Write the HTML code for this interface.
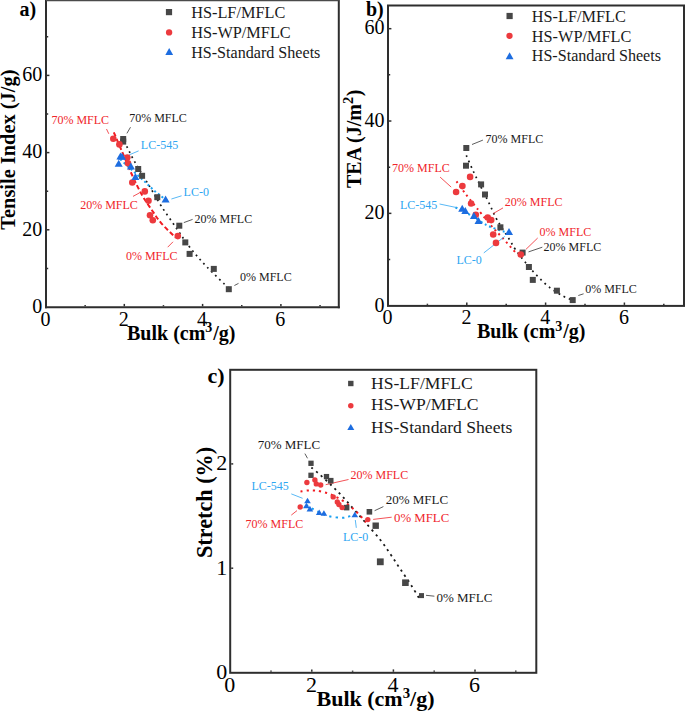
<!DOCTYPE html>
<html><head><meta charset="utf-8"><style>
html,body{margin:0;padding:0;background:#fff;width:685px;height:712px;overflow:hidden}
svg{display:block}
text{font-family:"Liberation Serif",serif}
</style></head><body>
<svg width="685" height="712" viewBox="0 0 685 712">
<rect width="685" height="712" fill="#fff"/>
<line x1="46" y1="-1" x2="46" y2="308.3" stroke="#2e2e2e" stroke-width="2" />
<line x1="338.8" y1="-1" x2="338.8" y2="308.3" stroke="#2e2e2e" stroke-width="2" />
<line x1="45" y1="307.3" x2="339.8" y2="307.3" stroke="#2e2e2e" stroke-width="2" />
<line x1="46" y1="0.5" x2="338.8" y2="0.5" stroke="#4a4a4a" stroke-width="1.4" />
<line x1="85.15" y1="306.3" x2="85.15" y2="305.1" stroke="#2e2e2e" stroke-width="1.5" />
<line x1="124.3" y1="306.3" x2="124.3" y2="303.9" stroke="#2e2e2e" stroke-width="1.5" />
<line x1="163.45" y1="306.3" x2="163.45" y2="305.1" stroke="#2e2e2e" stroke-width="1.5" />
<line x1="202.6" y1="306.3" x2="202.6" y2="303.9" stroke="#2e2e2e" stroke-width="1.5" />
<line x1="241.75" y1="306.3" x2="241.75" y2="305.1" stroke="#2e2e2e" stroke-width="1.5" />
<line x1="280.9" y1="306.3" x2="280.9" y2="303.9" stroke="#2e2e2e" stroke-width="1.5" />
<line x1="320.05" y1="306.3" x2="320.05" y2="305.1" stroke="#2e2e2e" stroke-width="1.5" />
<line x1="47" y1="268.4" x2="48.2" y2="268.4" stroke="#2e2e2e" stroke-width="1.5" />
<line x1="47" y1="229.8" x2="49.4" y2="229.8" stroke="#2e2e2e" stroke-width="1.5" />
<line x1="47" y1="191.2" x2="48.2" y2="191.2" stroke="#2e2e2e" stroke-width="1.5" />
<line x1="47" y1="152.6" x2="49.4" y2="152.6" stroke="#2e2e2e" stroke-width="1.5" />
<line x1="47" y1="114" x2="48.2" y2="114" stroke="#2e2e2e" stroke-width="1.5" />
<line x1="47" y1="75.4" x2="49.4" y2="75.4" stroke="#2e2e2e" stroke-width="1.5" />
<line x1="47" y1="36.8" x2="48.2" y2="36.8" stroke="#2e2e2e" stroke-width="1.5" />
<text x="42.2" y="312.8" font-size="20" fill="#000" text-anchor="end" font-weight="normal" >0</text>
<text x="42.2" y="235.6" font-size="20" fill="#000" text-anchor="end" font-weight="normal" >20</text>
<text x="42.2" y="158.4" font-size="20" fill="#000" text-anchor="end" font-weight="normal" >40</text>
<text x="42.2" y="81.2" font-size="20" fill="#000" text-anchor="end" font-weight="normal" >60</text>
<text x="45.4" y="325.6" font-size="20" fill="#000" text-anchor="middle" font-weight="normal" >0</text>
<text x="123.7" y="325.6" font-size="20" fill="#000" text-anchor="middle" font-weight="normal" >2</text>
<text x="202" y="325.6" font-size="20" fill="#000" text-anchor="middle" font-weight="normal" >4</text>
<text x="280.3" y="325.6" font-size="20" fill="#000" text-anchor="middle" font-weight="normal" >6</text>
<text x="127" y="339.6" font-size="20" fill="#000" text-anchor="start" font-weight="bold" >Bulk (cm<tspan font-size="14" dy="-7.6">3</tspan><tspan dy="7.6" dx="0.8">/g)</tspan></text>
<text x="0" y="0" font-size="20.4" fill="#000" text-anchor="start" font-weight="bold" transform="translate(15.4,229.7) rotate(-90)" >Tensile Index (J/g)</text>
<text x="19.6" y="16.2" font-size="20" fill="#000" text-anchor="start" font-weight="bold" >a)</text>
<rect x="165.9" y="9" width="6.2" height="6.2" fill="#474747"/>
<circle cx="169.1" cy="32.4" r="3.15" fill="#ec3a3e"/>
<polygon points="169.2,48.05 173.1,54.95 165.3,54.95" fill="#1d6de0"/>
<text x="191.2" y="17.5" font-size="16.3" fill="#1a1a1a" text-anchor="start" font-weight="normal" >HS-LF/MFLC</text>
<text x="191.2" y="37.9" font-size="16.3" fill="#1a1a1a" text-anchor="start" font-weight="normal" >HS-WP/MFLC</text>
<text x="191.2" y="57.7" font-size="16.1" fill="#1a1a1a" text-anchor="start" font-weight="normal" >HS-Standard Sheets</text>
<path d="M124.3,141.4 C126.07,144.87 130.58,154.53 134.9,162.2 C139.22,169.87 145.77,180.03 150.2,187.4 C154.63,194.77 157.07,199.5 161.5,206.4 C165.93,213.3 172.05,221.93 176.8,228.8 C181.55,235.67 184.98,241.25 190,247.6 C195.02,253.95 200.4,260.08 206.9,266.9 C213.4,273.72 225.32,284.9 229,288.5" fill="none" stroke="#1a1a1a" stroke-width="1.7" stroke-dasharray="1.8 3.8"/>
<path d="M113.8,132.3 C115.25,135.7 119.35,145.35 122.5,152.7 C125.65,160.05 129.45,169.35 132.7,176.4 C135.95,183.45 138.92,189.55 142,195 C145.08,200.45 148.03,204.45 151.2,209.1 C154.37,213.75 156.95,218.17 161,222.9 C165.05,227.63 173.08,235.07 175.5,237.5" fill="none" stroke="#f21c22" stroke-width="2" stroke-dasharray="4.6 2.6"/>
<path d="M120.5,159.5 C124.17,162.85 136.88,174.43 142.5,179.6 C148.12,184.77 150.62,187.35 154.2,190.5 C157.78,193.65 162.37,197.17 164,198.5" fill="none" stroke="#1aa0f0" stroke-width="2" stroke-dasharray="2 2.6"/>
<line x1="106.5" y1="129" x2="108.8" y2="133.8" stroke="#f0262c" stroke-width="0.8" />
<line x1="126.9" y1="133.4" x2="130.5" y2="127.2" stroke="#333" stroke-width="0.8" />
<line x1="129.1" y1="154.9" x2="138.6" y2="150.9" stroke="#2ea6f2" stroke-width="0.8" />
<line x1="133" y1="196.4" x2="139.6" y2="192.8" stroke="#f0262c" stroke-width="0.8" />
<line x1="171.4" y1="199" x2="181.6" y2="195.8" stroke="#2ea6f2" stroke-width="0.8" />
<line x1="183.8" y1="222.6" x2="192.6" y2="219.4" stroke="#333" stroke-width="0.8" />
<line x1="167.7" y1="247.2" x2="173" y2="241.8" stroke="#f0262c" stroke-width="0.8" />
<line x1="234.4" y1="285.5" x2="238.5" y2="283.4" stroke="#333" stroke-width="0.8" />
<text x="51.4" y="124.1" font-size="12" fill="#f0262c" text-anchor="start" font-weight="normal" >70% MFLC</text>
<text x="129.2" y="122.2" font-size="12" fill="#1a1a1a" text-anchor="start" font-weight="normal" >70% MFLC</text>
<text x="140.8" y="148.9" font-size="12" fill="#2ea6f2" text-anchor="start" font-weight="normal" >LC-545</text>
<text x="183.6" y="196.1" font-size="12" fill="#2ea6f2" text-anchor="start" font-weight="normal" >LC-0</text>
<text x="80.2" y="208.8" font-size="12" fill="#f0262c" text-anchor="start" font-weight="normal" >20% MFLC</text>
<text x="194.5" y="222.6" font-size="12" fill="#1a1a1a" text-anchor="start" font-weight="normal" >20% MFLC</text>
<text x="125.9" y="260.4" font-size="12" fill="#f0262c" text-anchor="start" font-weight="normal" >0% MFLC</text>
<text x="240" y="280.9" font-size="12" fill="#1a1a1a" text-anchor="start" font-weight="normal" >0% MFLC</text>
<rect x="120.2" y="136" width="6" height="6" fill="#474747"/>
<rect x="120.2" y="138.6" width="6" height="6" fill="#474747"/>
<rect x="135.2" y="166" width="6" height="6" fill="#474747"/>
<rect x="139.1" y="172.8" width="6" height="6" fill="#474747"/>
<rect x="154.3" y="194.2" width="6" height="6" fill="#474747"/>
<rect x="176.3" y="222.7" width="6" height="6" fill="#474747"/>
<rect x="182.3" y="239.4" width="6" height="6" fill="#474747"/>
<rect x="186.6" y="250.9" width="6" height="6" fill="#474747"/>
<rect x="210.8" y="265.9" width="6" height="6" fill="#474747"/>
<rect x="225.8" y="286.2" width="6" height="6" fill="#474747"/>
<circle cx="113.3" cy="138.7" r="3.3" fill="#ec3a3e"/>
<circle cx="119.4" cy="144.4" r="3.3" fill="#ec3a3e"/>
<circle cx="127.3" cy="157.5" r="3.3" fill="#ec3a3e"/>
<circle cx="128" cy="163.3" r="3.3" fill="#ec3a3e"/>
<circle cx="132.3" cy="182.5" r="3.3" fill="#ec3a3e"/>
<circle cx="144.8" cy="191.4" r="3.3" fill="#ec3a3e"/>
<circle cx="148.5" cy="200.8" r="3.3" fill="#ec3a3e"/>
<circle cx="150" cy="215.3" r="3.3" fill="#ec3a3e"/>
<circle cx="152.8" cy="220.2" r="3.3" fill="#ec3a3e"/>
<circle cx="177.8" cy="236.1" r="3.3" fill="#ec3a3e"/>
<polygon points="120.4,152.5 124.4,159.5 116.4,159.5" fill="#1d6de0"/>
<polygon points="122,152.8 126,159.8 118,159.8" fill="#1d6de0"/>
<polygon points="118.7,159.8 122.7,166.8 114.7,166.8" fill="#1d6de0"/>
<polygon points="130.9,162.4 134.9,169.4 126.9,169.4" fill="#1d6de0"/>
<polygon points="135.4,173.1 139.4,180.1 131.4,180.1" fill="#1d6de0"/>
<polygon points="165.6,195.5 169.6,202.5 161.6,202.5" fill="#1d6de0"/>
<rect x="388" y="5.5" width="296" height="300.4" fill="none" stroke="#2e2e2e" stroke-width="2"/>
<line x1="427.4" y1="304.9" x2="427.4" y2="303.7" stroke="#2e2e2e" stroke-width="1.5" />
<line x1="466.8" y1="304.9" x2="466.8" y2="302.5" stroke="#2e2e2e" stroke-width="1.5" />
<line x1="506.2" y1="304.9" x2="506.2" y2="303.7" stroke="#2e2e2e" stroke-width="1.5" />
<line x1="545.6" y1="304.9" x2="545.6" y2="302.5" stroke="#2e2e2e" stroke-width="1.5" />
<line x1="585" y1="304.9" x2="585" y2="303.7" stroke="#2e2e2e" stroke-width="1.5" />
<line x1="624.4" y1="304.9" x2="624.4" y2="302.5" stroke="#2e2e2e" stroke-width="1.5" />
<line x1="663.8" y1="304.9" x2="663.8" y2="303.7" stroke="#2e2e2e" stroke-width="1.5" />
<line x1="389" y1="259.53" x2="390.2" y2="259.53" stroke="#2e2e2e" stroke-width="1.5" />
<line x1="389" y1="213.36" x2="391.4" y2="213.36" stroke="#2e2e2e" stroke-width="1.5" />
<line x1="389" y1="167.19" x2="390.2" y2="167.19" stroke="#2e2e2e" stroke-width="1.5" />
<line x1="389" y1="121.02" x2="391.4" y2="121.02" stroke="#2e2e2e" stroke-width="1.5" />
<line x1="389" y1="74.85" x2="390.2" y2="74.85" stroke="#2e2e2e" stroke-width="1.5" />
<line x1="389" y1="28.68" x2="391.4" y2="28.68" stroke="#2e2e2e" stroke-width="1.5" />
<text x="384.4" y="311.5" font-size="20" fill="#000" text-anchor="end" font-weight="normal" >0</text>
<text x="384.4" y="219.16" font-size="20" fill="#000" text-anchor="end" font-weight="normal" >20</text>
<text x="384.4" y="126.82" font-size="20" fill="#000" text-anchor="end" font-weight="normal" >40</text>
<text x="384.4" y="34.48" font-size="20" fill="#000" text-anchor="end" font-weight="normal" >60</text>
<text x="387.6" y="324.1" font-size="20" fill="#000" text-anchor="middle" font-weight="normal" >0</text>
<text x="466.4" y="324.1" font-size="20" fill="#000" text-anchor="middle" font-weight="normal" >2</text>
<text x="545.2" y="324.1" font-size="20" fill="#000" text-anchor="middle" font-weight="normal" >4</text>
<text x="624" y="324.1" font-size="20" fill="#000" text-anchor="middle" font-weight="normal" >6</text>
<text x="477" y="338.2" font-size="20" fill="#000" text-anchor="start" font-weight="bold" >Bulk (cm<tspan font-size="14" dy="-7.6">3</tspan><tspan dy="7.6" dx="0.8">/g)</tspan></text>
<text x="0" y="0" font-size="20" fill="#000" text-anchor="start" font-weight="bold" transform="translate(360.9,188) rotate(-90)" >TEA (J/m<tspan font-size="14.5" dy="-8.3">2</tspan><tspan dy="8.3" dx="0.6">)</tspan></text>
<text x="366" y="16.3" font-size="20" fill="#000" text-anchor="start" font-weight="bold" >b)</text>
<rect x="506.5" y="12.9" width="6.2" height="6.2" fill="#474747"/>
<circle cx="509.5" cy="35.8" r="3.15" fill="#ec3a3e"/>
<polygon points="509.6,52.35 513.5,59.25 505.7,59.25" fill="#1d6de0"/>
<text x="531.8" y="21.6" font-size="16.3" fill="#1a1a1a" text-anchor="start" font-weight="normal" >HS-LF/MFLC</text>
<text x="531.8" y="41.5" font-size="16.3" fill="#1a1a1a" text-anchor="start" font-weight="normal" >HS-WP/MFLC</text>
<text x="531.8" y="61.3" font-size="16.1" fill="#1a1a1a" text-anchor="start" font-weight="normal" >HS-Standard Sheets</text>
<path d="M466.3,155.4 C467.48,158.08 470.95,166.23 473.4,171.5 C475.85,176.77 478.35,181.63 481,187 C483.65,192.37 486.65,198.27 489.3,203.7 C491.95,209.13 493.6,213.72 496.9,219.6 C500.2,225.48 506.03,234.05 509.1,239 C512.17,243.95 512.6,245.42 515.3,249.3 C518,253.18 521.68,257.9 525.3,262.3 C528.92,266.7 532.92,271.48 537,275.7 C541.08,279.92 545.43,284.2 549.8,287.6 C554.17,291 559.33,293.95 563.2,296.1 C567.07,298.25 571.37,299.77 573,300.5" fill="none" stroke="#1a1a1a" stroke-width="1.7" stroke-dasharray="1.8 4"/>
<path d="M456.5,181.3 C458.02,183.42 462.42,189.78 465.6,194 C468.78,198.22 472.98,203.33 475.6,206.6 C478.22,209.87 478.68,210.4 481.3,213.6 C483.92,216.8 487.8,221.78 491.3,225.8 C494.8,229.82 498.02,232.97 502.3,237.7 C506.58,242.43 514.55,251.45 517,254.2" fill="none" stroke="#f21c22" stroke-width="2" stroke-dasharray="2 3.6"/>
<path d="M455.5,207.5 C457.75,208.63 463.83,211.38 469,214.3 C474.17,217.22 481.17,222.27 486.5,225 C491.83,227.73 497.58,229.53 501,230.7 C504.42,231.87 506,231.78 507,232" fill="none" stroke="#1aa0f0" stroke-width="2" stroke-dasharray="2 2.8"/>
<line x1="440.1" y1="177.1" x2="451.2" y2="187.1" stroke="#f0262c" stroke-width="0.8" />
<line x1="472" y1="144.5" x2="482.9" y2="140.1" stroke="#333" stroke-width="0.8" />
<line x1="439.6" y1="204" x2="457.7" y2="207.8" stroke="#2ea6f2" stroke-width="0.8" />
<line x1="493.3" y1="213.5" x2="503" y2="207.9" stroke="#f0262c" stroke-width="0.8" />
<line x1="483.8" y1="252.9" x2="504.8" y2="236.4" stroke="#2ea6f2" stroke-width="0.8" />
<line x1="526" y1="249.3" x2="537.7" y2="238" stroke="#f0262c" stroke-width="0.8" />
<line x1="528.5" y1="251.9" x2="542.3" y2="247.2" stroke="#333" stroke-width="0.8" />
<line x1="578.3" y1="295.5" x2="583.6" y2="293.8" stroke="#333" stroke-width="0.8" />
<text x="392.1" y="172.4" font-size="12" fill="#f0262c" text-anchor="start" font-weight="normal" >70% MFLC</text>
<text x="485.6" y="142.8" font-size="12" fill="#1a1a1a" text-anchor="start" font-weight="normal" >70% MFLC</text>
<text x="399.9" y="209" font-size="12" fill="#2ea6f2" text-anchor="start" font-weight="normal" >LC-545</text>
<text x="456.4" y="263.8" font-size="12" fill="#2ea6f2" text-anchor="start" font-weight="normal" >LC-0</text>
<text x="504.8" y="206.1" font-size="12" fill="#f0262c" text-anchor="start" font-weight="normal" >20% MFLC</text>
<text x="539.6" y="235.9" font-size="12" fill="#f0262c" text-anchor="start" font-weight="normal" >0% MFLC</text>
<text x="543.6" y="250.9" font-size="12" fill="#1a1a1a" text-anchor="start" font-weight="normal" >20% MFLC</text>
<text x="585.2" y="292.5" font-size="12" fill="#1a1a1a" text-anchor="start" font-weight="normal" >0% MFLC</text>
<rect x="463.3" y="145" width="6" height="6" fill="#474747"/>
<rect x="463" y="162.7" width="6" height="6" fill="#474747"/>
<rect x="478.1" y="181.4" width="6" height="6" fill="#474747"/>
<rect x="482" y="191.5" width="6" height="6" fill="#474747"/>
<rect x="497.4" y="224.3" width="6" height="6" fill="#474747"/>
<rect x="519.6" y="249.6" width="6" height="6" fill="#474747"/>
<rect x="525.9" y="264" width="6" height="6" fill="#474747"/>
<rect x="529.8" y="276.9" width="6" height="6" fill="#474747"/>
<rect x="553.9" y="287.7" width="6" height="6" fill="#474747"/>
<rect x="569.7" y="297.1" width="6" height="6" fill="#474747"/>
<circle cx="470.1" cy="176.9" r="3.3" fill="#ec3a3e"/>
<circle cx="462.4" cy="186.1" r="3.3" fill="#ec3a3e"/>
<circle cx="456.1" cy="192" r="3.3" fill="#ec3a3e"/>
<circle cx="471.1" cy="203.5" r="3.3" fill="#ec3a3e"/>
<circle cx="475.8" cy="214.8" r="3.3" fill="#ec3a3e"/>
<circle cx="487.7" cy="217.6" r="3.3" fill="#ec3a3e"/>
<circle cx="491.2" cy="220.1" r="3.3" fill="#ec3a3e"/>
<circle cx="493.2" cy="234.5" r="3.3" fill="#ec3a3e"/>
<circle cx="496" cy="242.9" r="3.3" fill="#ec3a3e"/>
<circle cx="520.8" cy="254.5" r="3.3" fill="#ec3a3e"/>
<polygon points="462.2,204.8 466.2,211.8 458.2,211.8" fill="#1d6de0"/>
<polygon points="465.3,206.9 469.3,213.9 461.3,213.9" fill="#1d6de0"/>
<polygon points="473.9,212.1 477.9,219.1 469.9,219.1" fill="#1d6de0"/>
<polygon points="478.5,217.1 482.5,224.1 474.5,224.1" fill="#1d6de0"/>
<polygon points="509,228.1 513,235.1 505,235.1" fill="#1d6de0"/>
<rect x="230.2" y="369.8" width="306.1" height="303" fill="none" stroke="#2e2e2e" stroke-width="2"/>
<line x1="271" y1="671.8" x2="271" y2="670.6" stroke="#2e2e2e" stroke-width="1.5" />
<line x1="311.8" y1="671.8" x2="311.8" y2="669.4" stroke="#2e2e2e" stroke-width="1.5" />
<line x1="352.6" y1="671.8" x2="352.6" y2="670.6" stroke="#2e2e2e" stroke-width="1.5" />
<line x1="393.4" y1="671.8" x2="393.4" y2="669.4" stroke="#2e2e2e" stroke-width="1.5" />
<line x1="434.2" y1="671.8" x2="434.2" y2="670.6" stroke="#2e2e2e" stroke-width="1.5" />
<line x1="475" y1="671.8" x2="475" y2="669.4" stroke="#2e2e2e" stroke-width="1.5" />
<line x1="515.8" y1="671.8" x2="515.8" y2="670.6" stroke="#2e2e2e" stroke-width="1.5" />
<line x1="231.2" y1="568.2" x2="233.2" y2="568.2" stroke="#2e2e2e" stroke-width="1.5" />
<line x1="231.2" y1="463.9" x2="233.2" y2="463.9" stroke="#2e2e2e" stroke-width="1.5" />
<text x="227.2" y="678.9" font-size="22" fill="#000" text-anchor="end" font-weight="normal" >0</text>
<text x="227.2" y="574.6" font-size="22" fill="#000" text-anchor="end" font-weight="normal" >1</text>
<text x="227.2" y="470.3" font-size="22" fill="#000" text-anchor="end" font-weight="normal" >2</text>
<text x="229.8" y="692.2" font-size="22" fill="#000" text-anchor="middle" font-weight="normal" >0</text>
<text x="311.4" y="692.2" font-size="22" fill="#000" text-anchor="middle" font-weight="normal" >2</text>
<text x="393" y="692.2" font-size="22" fill="#000" text-anchor="middle" font-weight="normal" >4</text>
<text x="474.6" y="692.2" font-size="22" fill="#000" text-anchor="middle" font-weight="normal" >6</text>
<text x="316.5" y="706" font-size="22" fill="#000" text-anchor="start" font-weight="bold" >Bulk (cm<tspan font-size="14.8" dy="-7.8">3</tspan><tspan dy="7.8">/g)</tspan></text>
<text x="0" y="0" font-size="22.2" fill="#000" text-anchor="start" font-weight="bold" transform="translate(211.8,558) rotate(-90)" >Stretch (%)</text>
<text x="207.5" y="382.6" font-size="22" fill="#000" text-anchor="start" font-weight="bold" >c)</text>
<rect x="348.1" y="380.8" width="5.4" height="5.4" fill="#474747"/>
<circle cx="350.8" cy="405.7" r="2.75" fill="#ec3a3e"/>
<polygon points="350.8,424 354.3,430 347.3,430" fill="#1d6de0"/>
<text x="371" y="388.7" font-size="17.6" fill="#1a1a1a" text-anchor="start" font-weight="normal" >HS-LF/MFLC</text>
<text x="371" y="410.3" font-size="17.6" fill="#1a1a1a" text-anchor="start" font-weight="normal" >HS-WP/MFLC</text>
<text x="371" y="432.6" font-size="17.6" fill="#1a1a1a" text-anchor="start" font-weight="normal" >HS-Standard Sheets</text>
<path d="M311.4,467.5 C312.8,468.67 316.38,471.45 319.8,474.5 C323.22,477.55 328.13,482.15 331.9,485.8 C335.67,489.45 338.82,492.57 342.4,496.4 C345.98,500.23 349.63,504.53 353.4,508.8 C357.17,513.07 360.5,516.8 365,522 C369.5,527.2 376.07,534.5 380.4,540 C384.73,545.5 387.65,550.1 391,555 C394.35,559.9 397.18,564.45 400.5,569.4 C403.82,574.35 407.52,579.43 410.9,584.7 C414.28,589.97 419.15,598.28 420.8,601" fill="none" stroke="#1a1a1a" stroke-width="1.8" stroke-dasharray="2.2 4"/>
<path d="M300.5,491.5 C301.65,491.33 305.18,490.67 307.4,490.5 C309.62,490.33 311.67,490.38 313.8,490.5 C315.93,490.62 317.5,490.58 320.2,491.2 C322.9,491.82 326.6,492.85 330,494.2 C333.4,495.55 336.95,497.05 340.6,499.3 C344.25,501.55 348.68,505.02 351.9,507.7 C355.12,510.38 357.55,512.97 359.9,515.4 C362.25,517.83 364.98,521.15 366,522.3" fill="none" stroke="#f21c22" stroke-width="2" stroke-dasharray="2.2 4"/>
<path d="M306.4,505 C307.85,505.87 311.42,508.35 315.1,510.2 C318.78,512.05 324.07,514.83 328.5,516.1 C332.93,517.37 338.53,517.67 341.7,517.8 C344.87,517.93 345.32,517.42 347.5,516.9 C349.68,516.38 353.58,515.07 354.8,514.7" fill="none" stroke="#1aa0f0" stroke-width="2" stroke-dasharray="2.2 4.2"/>
<line x1="304.9" y1="453.6" x2="307.5" y2="458.3" stroke="#333" stroke-width="0.8" />
<line x1="291.3" y1="493.9" x2="302.6" y2="498.3" stroke="#2ea6f2" stroke-width="0.8" />
<line x1="291.3" y1="515.1" x2="297" y2="510.6" stroke="#f0262c" stroke-width="0.8" />
<line x1="325.7" y1="484.7" x2="348.5" y2="479.5" stroke="#f0262c" stroke-width="0.8" />
<line x1="374.6" y1="510.7" x2="383.4" y2="506.6" stroke="#333" stroke-width="0.8" />
<line x1="373.2" y1="519.4" x2="391.7" y2="517.2" stroke="#f0262c" stroke-width="0.8" />
<line x1="355.3" y1="520" x2="356.3" y2="527.8" stroke="#2ea6f2" stroke-width="0.8" />
<line x1="426" y1="595.3" x2="434.4" y2="596.2" stroke="#333" stroke-width="0.8" />
<text x="257.7" y="448.7" font-size="13" fill="#1a1a1a" text-anchor="start" font-weight="normal" >70% MFLC</text>
<text x="251.4" y="490.4" font-size="12" fill="#2ea6f2" text-anchor="start" font-weight="normal" >LC-545</text>
<text x="245.6" y="527.6" font-size="12" fill="#f0262c" text-anchor="start" font-weight="normal" >70% MFLC</text>
<text x="350.5" y="479.4" font-size="12" fill="#f0262c" text-anchor="start" font-weight="normal" >20% MFLC</text>
<text x="385.7" y="503.7" font-size="13" fill="#1a1a1a" text-anchor="start" font-weight="normal" >20% MFLC</text>
<text x="394.1" y="521.9" font-size="12.8" fill="#f0262c" text-anchor="start" font-weight="normal" >0% MFLC</text>
<text x="343" y="541.2" font-size="12" fill="#2ea6f2" text-anchor="start" font-weight="normal" >LC-0</text>
<text x="436.4" y="601.7" font-size="13" fill="#1a1a1a" text-anchor="start" font-weight="normal" >0% MFLC</text>
<rect x="308.35" y="460.65" width="5.3" height="5.3" fill="#474747"/>
<rect x="308.35" y="472.65" width="5.3" height="5.3" fill="#474747"/>
<rect x="323.85" y="473.95" width="5.3" height="5.3" fill="#474747"/>
<rect x="327.9" y="477.9" width="5.6" height="5.6" fill="#474747"/>
<rect x="343.8" y="504.8" width="5.6" height="5.6" fill="#474747"/>
<rect x="366.6" y="509" width="5.6" height="5.6" fill="#474747"/>
<rect x="372.5" y="522.5" width="6.4" height="6.4" fill="#474747"/>
<rect x="376.9" y="558.4" width="6.8" height="6.8" fill="#474747"/>
<rect x="402.1" y="579.4" width="6.6" height="6.6" fill="#474747"/>
<rect x="419" y="593.1" width="5" height="5" fill="#474747"/>
<circle cx="300.2" cy="507" r="2.7" fill="#ec3a3e"/>
<circle cx="306.9" cy="482.5" r="2.7" fill="#ec3a3e"/>
<circle cx="314.9" cy="479.9" r="2.7" fill="#ec3a3e"/>
<circle cx="316.3" cy="483.9" r="2.7" fill="#ec3a3e"/>
<circle cx="320.7" cy="485" r="2.7" fill="#ec3a3e"/>
<circle cx="333.2" cy="496.9" r="2.7" fill="#ec3a3e"/>
<circle cx="337.3" cy="501.9" r="2.7" fill="#ec3a3e"/>
<circle cx="338.9" cy="504.5" r="2.7" fill="#ec3a3e"/>
<circle cx="342.1" cy="507.6" r="2.7" fill="#ec3a3e"/>
<circle cx="367.8" cy="519.6" r="2.7" fill="#ec3a3e"/>
<polygon points="307.5,497.7 310.8,503.3 304.2,503.3" fill="#1d6de0"/>
<polygon points="306.4,502.7 309.7,508.3 303.1,508.3" fill="#1d6de0"/>
<polygon points="309.9,505.8 313.2,511.4 306.6,511.4" fill="#1d6de0"/>
<polygon points="319.2,509.4 322.5,515 315.9,515" fill="#1d6de0"/>
<polygon points="323.9,510.2 327.2,515.8 320.6,515.8" fill="#1d6de0"/>
<polygon points="354.8,511.7 358.1,517.3 351.5,517.3" fill="#1d6de0"/>
</svg>
</body></html>
